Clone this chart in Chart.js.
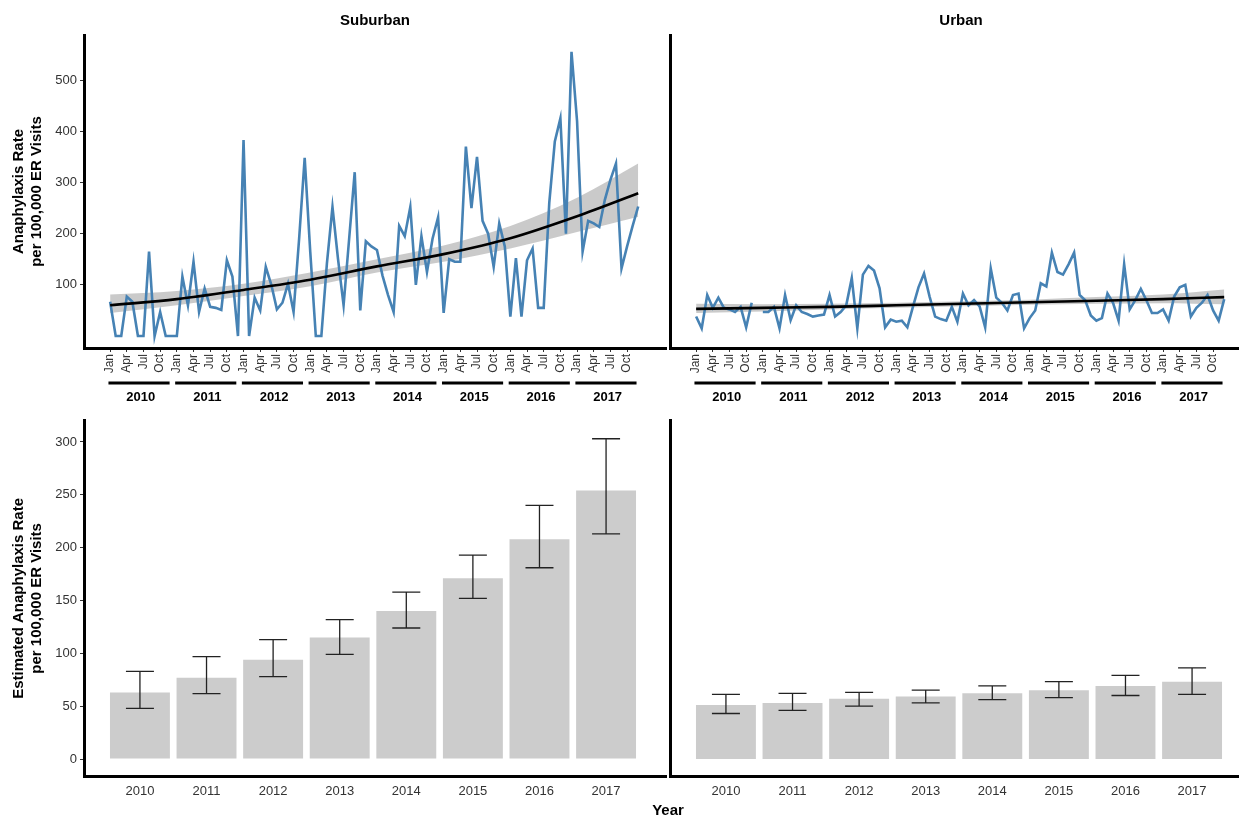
<!DOCTYPE html>
<html>
<head>
<meta charset="utf-8">
<title>Anaphylaxis rates, suburban vs urban</title>
<script src="https://cdn.jsdelivr.net/npm/chart.js@4.4.1/dist/chart.umd.min.js"></script>
<style>
  html, body { margin: 0; padding: 0; background: #fff; overflow: hidden; width: 1239px; height: 818px; }
  canvas { position: absolute; }
  #yearTitle { position: absolute; top: 801px; left: 668px; transform: translateX(-50%);
    font: bold 15px 'Liberation Sans', Arial, sans-serif; color: #000; }
</style>
</head>
<body>
<canvas id="suburbanLine" width="670" height="410" style="left:0;top:0"></canvas>
<canvas id="urbanLine" width="600" height="410" style="left:652px;top:0"></canvas>
<canvas id="suburbanBars" width="670" height="408" style="left:0;top:410px"></canvas>
<canvas id="urbanBars" width="600" height="408" style="left:652px;top:410px"></canvas>
<div id="yearTitle">Year</div>
<script>
const FONT = "'Liberation Sans', Arial, sans-serif";
const NARROW = "'Liberation Sans Narrow', 'Liberation Sans', Arial, sans-serif";
const TICK_COLOR = '#333';

const years = ['2010', '2011', '2012', '2013', '2014', '2015', '2016', '2017'];
const monthNames = ['Jan', 'Apr', 'Jul', 'Oct'];

// monthly rates, Jan 2010 .. Dec 2017
const suburbanMonthly = [
  67, 0, 0, 77, 67, 0, 0, 165, 0, 47, 0, 0,
  0, 116, 60, 145, 47, 93, 57, 55, 51, 148, 116, 0,
  383, 0, 75, 50, 135, 100, 52, 65, 102, 47, 190, 348,
  165, 0, 0, 142, 252, 150, 60, 190, 320, 50, 185, 175,
  168, 118, 80, 47, 215, 195, 252, 100, 195, 125, 190, 232,
  45, 150, 145, 145, 370, 250, 350, 225, 200, 135, 220, 175,
  38, 152, 38, 148, 171, 55, 55, 260, 380, 425, 200, 555,
  420, 165, 225, 220, 213, 266, 305, 337, 132, 175, 215, 253
];
const urbanMonthly = [
  38, 15, 80, 55, 75, 55, 52, 47, 57, 17, 65, null,
  47, 47, 57, 15, 80, 31, 60, 47, 43, 38, 40, 42,
  80, 38, 47, 60, 113, 15, 120, 137, 128, 93, 17, 32,
  28, 30, 17, 57, 95, 122, 77, 38, 33, 30, 57, 28,
  83, 60, 70, 58, 17, 132, 75, 65, 50, 80, 83, 15,
  35, 50, 103, 97, 163, 125, 120, 140, 163, 80, 70, 40,
  30, 35, 83, 65, 30, 140, 52, 70, 92, 70, 45, 45,
  52, 30, 77, 95, 100, 38, 55, 65, 80, 50, 30, 72
];

// smoothed trend read at a few months (month index from Jan 2010)
const trendMonths = [0, 12, 24, 36, 48, 60, 72, 84, 95];
const suburbanTrend = [60, 72, 90, 110, 136, 160, 191, 234, 279];
const suburbanTrendLo = [45, 60, 78, 97, 124, 145, 171, 203, 233];
const suburbanTrendHi = [81, 88, 102, 124, 150, 177, 215, 270, 337];
const urbanTrend = [53, 55, 57, 60, 63, 66, 69, 72, 76];
const urbanTrendLo = [45, 48, 52, 55, 58, 61, 63, 64, 62];
const urbanTrendHi = [63, 62, 63, 65, 68, 71, 76, 81, 91];

// yearly estimates with confidence limits
const suburbanRate = [63, 77, 94, 115, 140, 171, 208, 254];
const suburbanLo = [48, 62, 78, 99, 124, 152, 181, 213];
const suburbanHi = [83, 97, 113, 132, 158, 193, 240, 303];
const urbanRate = [51, 53, 57, 59, 62, 65, 69, 73];
const urbanLo = [43, 46, 50, 53, 56, 58, 60, 61];
const urbanHi = [61, 62, 63, 65, 69, 73, 79, 86];

const rateTicksTop = [100, 200, 300, 400, 500];
const rateTicksBottom = [0, 50, 100, 150, 200, 250, 300];

const quarterTicks = [];
years.forEach((yr, i) => monthNames.forEach((m, q) => quarterTicks.push(i * 12 + q * 3)));

function toPoints(xs, ys) {
  return ys.map((v, i) => ({x: xs[i], y: v}));
}

function monthlyPoints(values) {
  return values.map((v, i) => ({x: i, y: v}));
}

// thick bar + bold year under each group of months
const yearBrackets = {
  id: 'yearBrackets',
  afterDraw(chart) {
    const ctx = chart.ctx;
    const x = chart.scales.x;
    const base = chart.chartArea.bottom;
    ctx.save();
    ctx.strokeStyle = '#000';
    ctx.lineWidth = 3;
    ctx.fillStyle = '#000';
    ctx.font = 'bold 13px ' + FONT;
    ctx.textAlign = 'center';
    ctx.textBaseline = 'middle';
    years.forEach((yr, i) => {
      const a = x.getPixelForValue(i * 12 - 0.3);
      const b = x.getPixelForValue(i * 12 + 10.7);
      ctx.beginPath();
      ctx.moveTo(a, base + 35);
      ctx.lineTo(b, base + 35);
      ctx.stroke();
      ctx.fillText(yr, x.getPixelForValue(i * 12 + 5.5), base + 49);
    });
    ctx.restore();
  }
};

function errorBarsFor(lo, hi) {
  return {
    id: 'errorBars',
    afterDatasetsDraw(chart) {
      const ctx = chart.ctx;
      const y = chart.scales.y;
      const bars = chart.getDatasetMeta(0).data;
      ctx.save();
      ctx.strokeStyle = '#222';
      ctx.lineWidth = 1.3;
      bars.forEach((bar, i) => {
        const top = y.getPixelForValue(hi[i]);
        const bottom = y.getPixelForValue(lo[i]);
        ctx.beginPath();
        ctx.moveTo(bar.x, top);
        ctx.lineTo(bar.x, bottom);
        ctx.moveTo(bar.x - 14, top);
        ctx.lineTo(bar.x + 14, top);
        ctx.moveTo(bar.x - 14, bottom);
        ctx.lineTo(bar.x + 14, bottom);
        ctx.stroke();
      });
      ctx.restore();
    }
  };
}

function yAxis(min, max, tickValues, showLabels, title, width) {
  return {
    min: min,
    max: max,
    afterBuildTicks: s => { s.ticks = tickValues.map(v => ({value: v})); },
    afterFit: s => { s.width = width; },
    ticks: {display: showLabels, font: {family: NARROW, size: 13}, color: TICK_COLOR, padding: 3},
    grid: {display: showLabels, drawOnChartArea: false, tickLength: 4, color: '#333'},
    border: {display: true, color: '#000', width: 3},
    title: {
      display: !!title,
      text: title || '',
      font: {family: FONT, size: 15, weight: 'bold'},
      color: '#000',
      padding: {top: 10, bottom: 0}
    }
  };
}

function lineChart(id, name, monthly, trend, lo, hi, showLabels, yWidth) {
  return new Chart(document.getElementById(id), {
    type: 'line',
    data: {
      datasets: [
        {data: toPoints(trendMonths, trend), borderColor: '#000', borderWidth: 2.6,
          pointRadius: 0, fill: false, cubicInterpolationMode: 'monotone'},
        {data: monthlyPoints(monthly), borderColor: '#4682B4', borderWidth: 2.6,
          pointRadius: 0, fill: false, spanGaps: false},
        {data: toPoints(trendMonths, hi), borderWidth: 0, pointRadius: 0,
          fill: '+1', backgroundColor: 'rgba(150,150,150,0.5)', cubicInterpolationMode: 'monotone'},
        {data: toPoints(trendMonths, lo), borderWidth: 0, pointRadius: 0,
          fill: false, cubicInterpolationMode: 'monotone'}
      ]
    },
    options: {
      responsive: false,
      animation: false,
      layout: {padding: {left: 0, right: showLabels ? 4 : 0, top: 0, bottom: 0}},
      plugins: {
        legend: {display: false},
        tooltip: {enabled: false},
        title: {display: true, text: name, fullSize: false, color: '#000',
          font: {family: FONT, size: 15, weight: 'bold'}, padding: {top: 12, bottom: 5}}
      },
      scales: {
        x: {
          type: 'linear', min: -4.7, max: 100, offset: false,
          afterBuildTicks: s => { s.ticks = quarterTicks.map(v => ({value: v})); },
          afterFit: s => { s.height = 62; },
          ticks: {autoSkip: false, minRotation: 90, maxRotation: 90, padding: 2,
            font: {family: NARROW, size: 12}, color: TICK_COLOR,
            callback: v => monthNames[(v % 12) / 3]},
          grid: {drawOnChartArea: false, tickLength: 4, color: '#333'},
          border: {color: '#000', width: 3}
        },
        y: yAxis(-23.4, 588, rateTicksTop, showLabels,
          showLabels ? ['Anaphylaxis Rate', 'per 100,000 ER Visits'] : null, yWidth)
      }
    },
    plugins: [yearBrackets]
  });
}

function barChart(id, rates, lo, hi, showLabels, yWidth) {
  return new Chart(document.getElementById(id), {
    type: 'bar',
    data: {
      datasets: [{
        data: years.map((yr, i) => ({x: Number(yr), y: rates[i]})),
        backgroundColor: '#cccccc',
        categoryPercentage: 1,
        barPercentage: 0.9
      }]
    },
    options: {
      responsive: false,
      animation: false,
      layout: {padding: {left: 0, right: showLabels ? 4 : 0, top: 10, bottom: 0}},
      plugins: {legend: {display: false}, tooltip: {enabled: false}},
      scales: {
        x: {
          type: 'linear', min: 2009.16, max: 2017.9, offset: false,
          afterBuildTicks: s => { s.ticks = years.map(yr => ({value: Number(yr)})); },
          afterFit: s => { s.height = 42; },
          ticks: {autoSkip: false, maxRotation: 0, padding: 8,
            font: {family: NARROW, size: 13}, color: TICK_COLOR,
            callback: v => String(v)},
          grid: {display: false, drawTicks: false},
          border: {color: '#000', width: 3}
        },
        y: yAxis(-16, 320, rateTicksBottom, showLabels,
          showLabels ? ['Estimated Anaphylaxis Rate', 'per 100,000 ER Visits'] : null, yWidth)
      }
    },
    plugins: [errorBarsFor(lo, hi)]
  });
}

lineChart('suburbanLine', 'Suburban', suburbanMonthly, suburbanTrend, suburbanTrendLo, suburbanTrendHi, true, 84);
lineChart('urbanLine', 'Urban', urbanMonthly, urbanTrend, urbanTrendLo, urbanTrendHi, false, 18);
barChart('suburbanBars', suburbanRate, suburbanLo, suburbanHi, true, 84);
barChart('urbanBars', urbanRate, urbanLo, urbanHi, false, 18);
</script>
</body>
</html>
